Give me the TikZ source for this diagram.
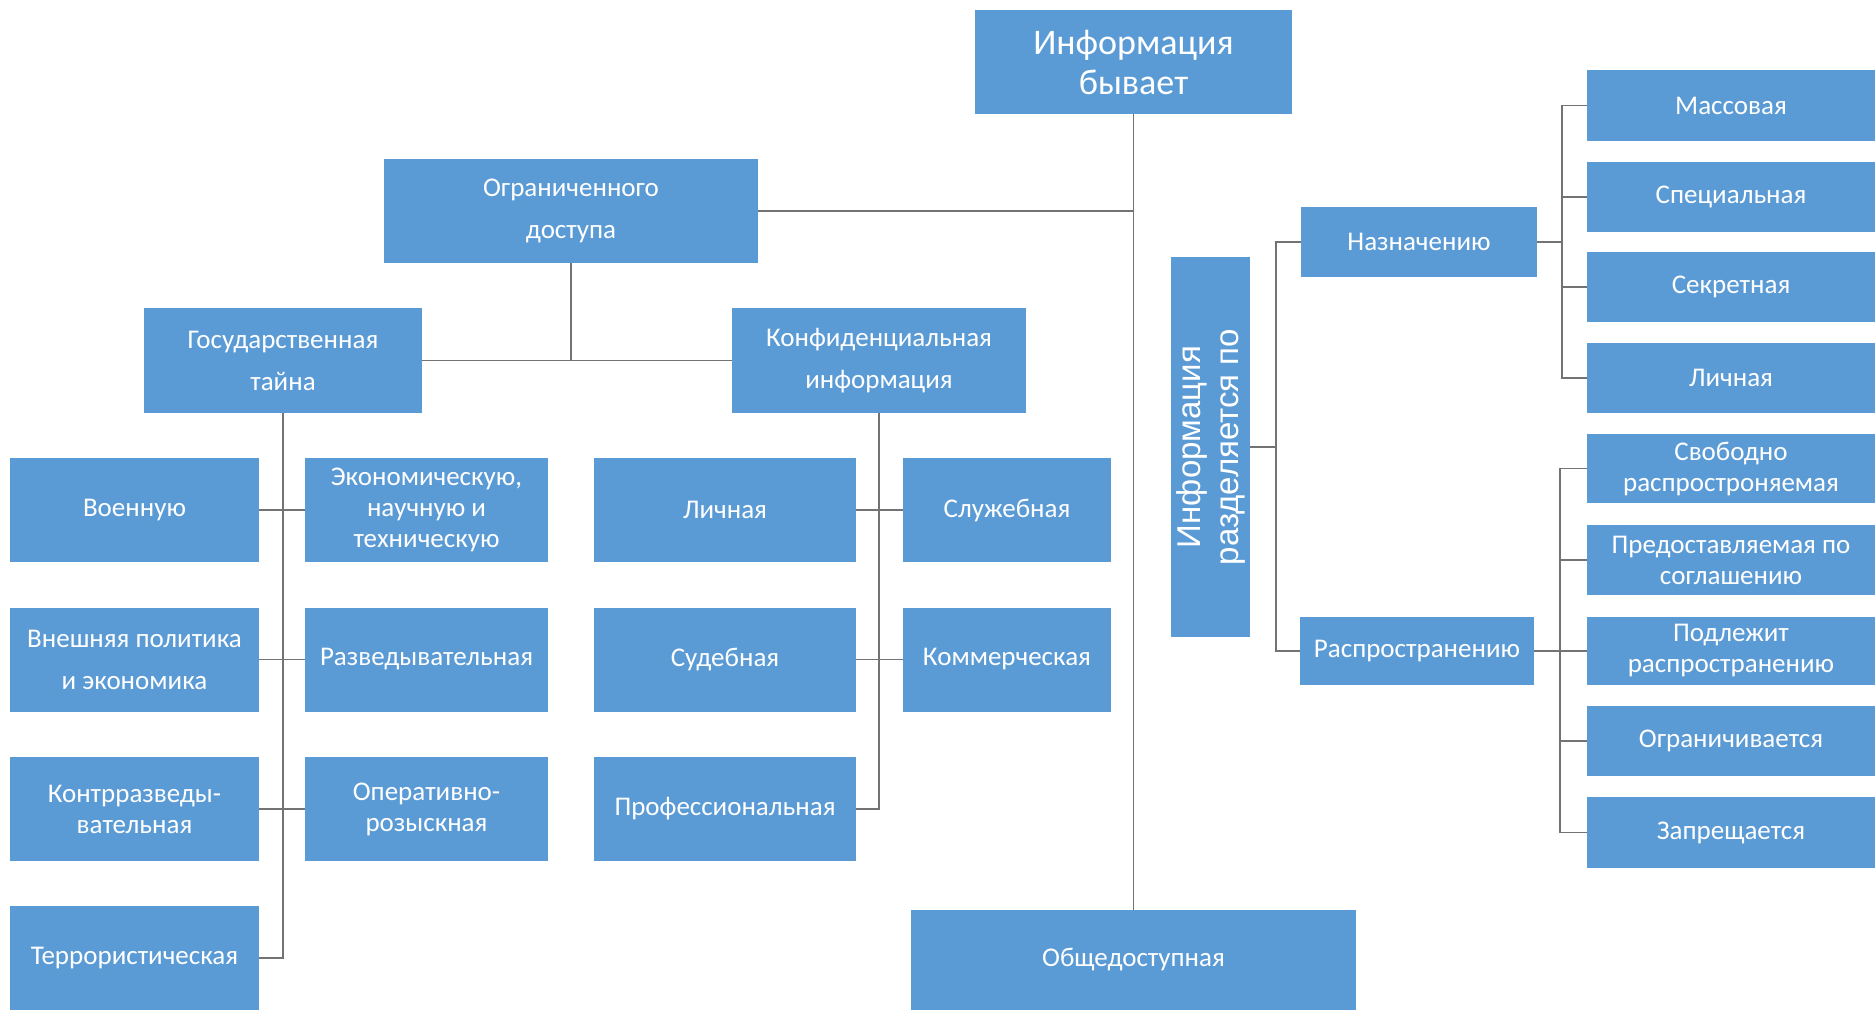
\documentclass[tikz,border=0pt]{standalone}
\usepackage{fontspec}
\setmainfont{Carlito}
\newfontfamily\vfont{Liberation Sans}
\definecolor{boxblue}{RGB}{91,155,213}
\definecolor{linegray}{RGB}{115,115,115}
\tikzset{
  box/.style={fill=boxblue, draw=none, text=white, inner sep=0pt, align=center,
    font=\fontsize{27}{31}\selectfont},
  wide/.style={font=\fontsize{27}{42}\selectfont},
  link/.style={draw=linegray, line width=1.8pt},
  colA/.style={box, minimum width=249pt, minimum height=104pt},
  colB/.style={box, minimum width=243pt, minimum height=104pt},
  colC/.style={box, minimum width=262pt, minimum height=104pt},
  colD/.style={box, minimum width=208pt, minimum height=104pt},
  colR/.style={box, minimum width=288pt, minimum height=70pt},
}
\begin{document}
\begin{tikzpicture}[x=1pt,y=-1pt]
\useasboundingbox (0,0) rectangle (1875,1010);
\fill[white] (0,0) rectangle (1875,1010);

% top and main level
\node[box, minimum width=317pt, minimum height=104pt, font=\fontsize{36}{40}\selectfont] (top) at (1133.5,62) {Информация\\бывает};
\node[box, wide, minimum width=374pt, minimum height=104pt] (ogr) at (571,211) {Ограниченного\\доступа};
\node[box, wide, minimum width=278pt, minimum height=105pt] (gos) at (283,360.5) {Государственная\\тайна};
\node[box, wide, minimum width=294pt, minimum height=105pt] (konf) at (879,360.5) {Конфиденциальная\\информация};
\node[box, minimum width=445pt, minimum height=100pt] (obsh) at (1133.5,960) {Общедоступная};

% grid rows
\node[colA] (voen) at (134.5,510) {Военную};
\node[colB] (econ) at (426.5,510) {Экономическую,\\научную и\\техническую};
\node[colC] (lich) at (725,510) {Личная};
\node[colD] (sluzh) at (1007,510) {Служебная};

\node[colA, wide] (vnesh) at (134.5,659.5) {Внешняя политика\\и экономика};
\node[colB] (razv) at (426.5,659.5) {Разведывательная};
\node[colC] (sud) at (725,659.5) {Судебная};
\node[colD] (komm) at (1007,659.5) {Коммерческая};

\node[colA] (kontr) at (134.5,809) {Контрразведы-\\вательная};
\node[colB] (oper) at (426.5,809) {Оперативно-\\розыскная};
\node[colC] (prof) at (725,809) {Профессиональная};

\node[colA] (terr) at (134.5,958) {Террористическая};

% right part
\node[box, rotate=90, minimum width=380pt, minimum height=79pt, font=\vfont\fontsize{33}{38}\selectfont] (vbox) at (1210.5,447) {Информация\\разделяется по};
\node[box, minimum width=236pt, minimum height=70pt] (naz) at (1419,242) {Назначению};
\node[box, minimum width=234pt, minimum height=68pt] (rasp) at (1417,651) {Распространению};

\node[colR, minimum height=71pt] (m1) at (1731,105.5) {Массовая};
\node[colR] (m2) at (1731,197) {Специальная};
\node[colR] (m3) at (1731,287) {Секретная};
\node[colR] (m4) at (1731,378) {Личная};

\node[colR, minimum height=69pt] (d1) at (1731,468.5) {Свободно\\распростроняемая};
\node[colR] (d2) at (1731,560) {Предоставляемая по\\соглашению};
\node[colR, minimum height=68pt] (d3) at (1731,651) {Подлежит\\распространению};
\node[colR] (d4) at (1731,741) {Ограничивается};
\node[colR, minimum height=71pt] (d5) at (1731,832.5) {Запрещается};

% helper coordinates
\coordinate (sp) at (1276,242);
\coordinate (b1) at (1562,0);
\coordinate (b2) at (1560,0);

% connectors: main trunk
\draw[link] (top.south) -- (obsh.north);
\draw[link] (ogr.east) -- (ogr.east -| top.south);
\draw[link] (ogr.south) -- (ogr.south |- gos.east);
\draw[link] (gos.east) -- (konf.west);

% state secret branch
\draw[link] (gos.south) -- (gos.south |- terr.east) -- (terr.east);
\draw[link] (voen.east) -- (econ.west);
\draw[link] (vnesh.east) -- (razv.west);
\draw[link] (kontr.east) -- (oper.west);

% confidential branch
\draw[link] (konf.south) -- (konf.south |- prof.east) -- (prof.east);
\draw[link] (lich.east) -- (sluzh.west);
\draw[link] (sud.east) -- (komm.west);

% division branch
\draw[link] (naz.west) -- (sp) |- (rasp.west);
\draw[link] (vbox.south) -- (vbox.south -| sp);

\draw[link] (naz.east) -- (naz.east -| b1);
\draw[link] (m1.west) -- (m1.west -| b1) -- (m4.west -| b1) -- (m4.west);
\draw[link] (m2.west) -- (m2.west -| b1);
\draw[link] (m3.west) -- (m3.west -| b1);

\draw[link] (rasp.east) -- (rasp.east -| b2);
\draw[link] (d1.west) -- (d1.west -| b2) -- (d5.west -| b2) -- (d5.west);
\draw[link] (d2.west) -- (d2.west -| b2);
\draw[link] (d3.west) -- (d3.west -| b2);
\draw[link] (d4.west) -- (d4.west -| b2);
\end{tikzpicture}
\end{document}
